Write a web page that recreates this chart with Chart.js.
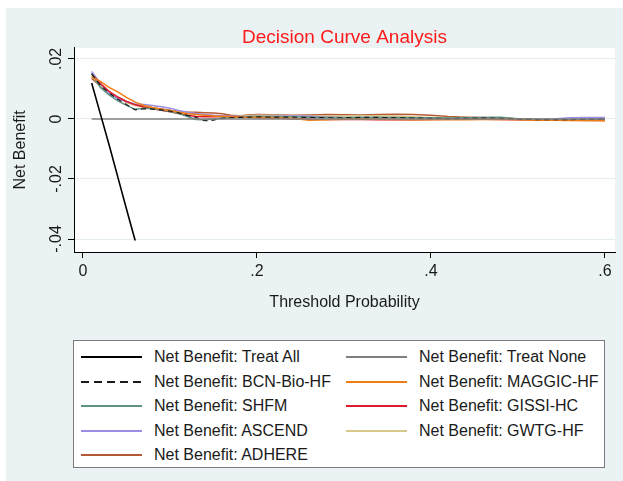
<!DOCTYPE html>
<html>
<head>
<meta charset="utf-8">
<script src="https://cdn.jsdelivr.net/npm/chart.js@4.4.1/dist/chart.umd.min.js"></script>
<style>
  html, body { margin: 0; padding: 0; background: #fff; }
  #page { position: relative; width: 623px; height: 481px; overflow: hidden; font-family: "Liberation Sans", Arial, sans-serif; }
  #bg { position: absolute; left: 6px; top: 8px; right: 0; bottom: 0; background: #eaf2f3; }
  #wrap { position: absolute; left: 0; top: 0; width: 623px; height: 330px; }
  #legend { position: absolute; left: 73px; top: 340px; width: 530px; height: 126px; background: #fff; border: 1px solid #7a7a7a; }
  .item { position: absolute; height: 20px; font-size: 16px; color: #1a1a1a; white-space: nowrap; }
  .item svg { position: absolute; left: 0; top: 3px; }
  .item span { position: absolute; left: 73px; top: 0; line-height: 20px; }
</style>
</head>
<body>
<div id="page">
  <div id="bg"></div>
  <div id="wrap"><canvas id="chart" width="623" height="330"></canvas></div>
  <div id="legend"></div>
</div>
<script>
const thresholds = [0.01, 0.02, 0.03, 0.04, 0.05, 0.06, 0.07, 0.08, 0.09, 0.10,
                    0.11, 0.12, 0.13, 0.14, 0.15, 0.16, 0.17, 0.18, 0.19, 0.20,
                    0.22, 0.24, 0.26, 0.28, 0.30, 0.32, 0.34, 0.36, 0.38, 0.40,
                    0.42, 0.44, 0.46, 0.48, 0.50, 0.52, 0.54, 0.56, 0.58, 0.60];

const treatAllX = [0.01, 0.02, 0.03, 0.04, 0.05, 0.06];
const treatAll  = [0.0120, 0.0017, -0.0086, -0.0193, -0.0300, -0.0405];
const treatNoneX = [0.01, 0.60];
const treatNone  = [0, 0];

const bcnBioHf = [.0150, .0112, .0086, .0066, .0048, .0030, .0034, .0033, .0030, .0026,
                  .0020, .0012, .0005, -.0006, -.0004, .0002, .0004, .0005, .0006, .0007,
                  .0006, .0006, .0005, .0004, .0004, .0005, .0005, .0004, .0003, .0002,
                  .0001, .0002, .0003, .0002, -.0001, -.0002, -.0002, -.0002, -.0001, .0000];
const maggicHf = [.0140, .0125, .0105, .0090, .0072, .0056, .0045, .0038, .0032, .0027,
                  .0022, .0018, .0015, .0012, .0010, .0008, .0007, .0006, .0005, .0005,
                  .0004, .0002, -.0004, -.0003, -.0001, .0000, -.0001, -.0002, -.0003, -.0003,
                  -.0002, -.0003, -.0002, -.0001, -.0003, -.0004, -.0004, -.0005, -.0005, -.0006];
const shfm     = [.0152, .0105, .0080, .0060, .0045, .0032, .0036, .0034, .0030, .0025,
                  .0018, .0008, -.0002, -.0003, .0000, .0003, .0005, .0006, .0007, .0008,
                  .0007, .0007, .0006, .0005, .0005, .0006, .0006, .0005, .0004, .0004,
                  .0003, .0004, .0005, .0006, .0001, -.0002, -.0002, -.0002, -.0001, .0000];
const gissiHc  = [.0150, .0118, .0092, .0073, .0058, .0047, .0040, .0034, .0029, .0024,
                  .0018, .0012, .0008, .0007, .0007, .0008, .0008, .0007, .0006, .0005,
                  .0003, .0001, -.0001, -.0002, -.0002, -.0002, -.0003, -.0003, -.0003, -.0002,
                  -.0001, .0000, -.0001, -.0002, -.0003, -.0003, -.0003, -.0003, -.0003, -.0003];
const ascend   = [.0158, .0118, .0085, .0068, .0057, .0050, .0048, .0045, .0041, .0036,
                  .0028, .0022, .0018, .0015, .0012, .0010, .0009, .0008, .0008, .0008,
                  .0009, .0010, .0009, .0006, .0004, .0003, .0003, .0003, .0002, .0001,
                  .0000, -.0001, .0000, .0001, -.0001, -.0002, .0000, .0004, .0005, .0005];
const gwtgHf   = [.0142, .0112, .0090, .0070, .0055, .0045, .0040, .0035, .0031, .0027,
                  .0023, .0019, .0016, .0013, .0011, .0010, .0009, .0010, .0011, .0012,
                  .0012, .0011, .0010, .0009, .0010, .0011, .0011, .0009, .0007, .0005,
                  .0004, .0004, .0003, .0002, -.0001, -.0003, -.0003, -.0004, -.0004, -.0004];
const adhere   = [.0135, .0110, .0090, .0072, .0058, .0048, .0042, .0037, .0033, .0029,
                  .0025, .0023, .0022, .0021, .0020, .0017, .0012, .0011, .0013, .0015,
                  .0014, .0012, .0013, .0015, .0014, .0013, .0015, .0016, .0015, .0012,
                  .0008, .0006, .0005, .0004, .0000, -.0002, -.0003, -.0004, -.0005, -.0005];

const xTicks = [0, 0.2, 0.4, 0.6];
const yTicks = [-0.04, -0.02, 0, 0.02];

const FONT = '"Liberation Sans", Arial, sans-serif';

function fmt(v) {
    let s = String(Math.round(v * 1000) / 1000);
    return s.replace(/^(-?)0\./, '$1.');
}

function pts(xs, ys) {
    return xs.map((x, i) => ({ x: x, y: ys[i] }));
}

function series(label, ys, color, dash, width) {
    return {
        label: label,
        data: pts(thresholds, ys),
        borderColor: color,
        borderWidth: width || 1.5,
        borderDash: dash || [],
        pointRadius: 0,
        fill: false
    };
}

const datasets = [
    { label: 'Net Benefit: Treat All', data: pts(treatAllX, treatAll), borderColor: '#000000', borderWidth: 1.6, pointRadius: 0, fill: false },
    { label: 'Net Benefit: Treat None', data: pts(treatNoneX, treatNone), borderColor: '#808080', borderWidth: 1.5, pointRadius: 0, fill: false },
    series('Net Benefit: BCN-Bio-HF', bcnBioHf, '#1a1a1a', [5, 4], 1.2),
    series('Net Benefit: MAGGIC-HF', maggicHf, '#ee7d15'),
    series('Net Benefit: SHFM', shfm, '#5f9383'),
    series('Net Benefit: GISSI-HC', gissiHc, '#dc1a2c'),
    series('Net Benefit: ASCEND', ascend, '#9a8fe4'),
    series('Net Benefit: GWTG-HF', gwtgHf, '#d8c88a'),
    series('Net Benefit: ADHERE', adhere, '#b65a36')
];

// white plot region + rotated y tick labels (Stata style)
const plotBg = {
    id: 'plotBg',
    beforeDraw(chart) {
        const a = chart.chartArea;
        const ctx = chart.ctx;
        ctx.save();
        ctx.fillStyle = '#ffffff';
        ctx.fillRect(a.left, a.top, a.right - a.left, a.bottom - a.top);
        ctx.restore();
    },
    afterDraw(chart) {
        const ctx = chart.ctx;
        const y = chart.scales.y;
        ctx.save();
        ctx.fillStyle = '#1a1a1a';
        ctx.font = '16px ' + FONT;
        ctx.textAlign = 'center';
        ctx.textBaseline = 'middle';
        yTicks.forEach(v => {
            ctx.save();
            ctx.translate(57, y.getPixelForValue(v));
            ctx.rotate(-Math.PI / 2);
            ctx.fillText(fmt(v), 0, 0);
            ctx.restore();
        });
        ctx.restore();
    }
};

const chart = new Chart(document.getElementById('chart'), {
    type: 'line',
    data: { datasets: datasets },
    plugins: [plotBg],
    options: {
        responsive: false,
        animation: false,
        layout: { padding: { left: 0, right: 8, top: 0, bottom: 0 } },
        plugins: {
            legend: { display: false },
            tooltip: { enabled: false },
            title: {
                display: true,
                text: 'Decision Curve Analysis',
                color: '#ff1a1a',
                fullSize: false,
                font: { family: FONT, size: 19, weight: 'normal', lineHeight: 1.1 },
                padding: { top: 27, bottom: 0 }
            }
        },
        scales: {
            x: {
                type: 'linear',
                min: -0.0103,
                max: 0.6115,
                afterBuildTicks: s => { s.ticks = xTicks.map(v => ({ value: v })); },
                afterFit: s => { s.height = 78; },
                ticks: { color: '#1a1a1a', font: { family: FONT, size: 16 }, padding: 4, maxRotation: 0, callback: v => fmt(v) },
                grid: { drawOnChartArea: false, tickLength: 6, tickColor: '#000' },
                border: { display: true, color: '#000', width: 1 },
                title: { display: true, text: 'Threshold Probability', color: '#1a1a1a', font: { family: FONT, size: 16 }, padding: { top: 0, bottom: 18 } }
            },
            y: {
                type: 'linear',
                min: -0.04433,
                max: 0.02367,
                afterBuildTicks: s => { s.ticks = yTicks.map(v => ({ value: v })); },
                afterFit: s => { s.width = 74; },
                ticks: { display: false },
                grid: { color: '#e4edef', lineWidth: 1, tickLength: 6, tickColor: '#000' },
                border: { display: true, color: '#000', width: 1 },
                title: { display: true, text: 'Net Benefit', color: '#1a1a1a', font: { family: FONT, size: 16 }, padding: { top: 11, bottom: 0 } }
            }
        }
    }
});

// legend box in two columns, built from the chart's datasets
const legend = document.getElementById('legend');
chart.data.datasets.forEach((ds, i) => {
    const col = i % 2, row = Math.floor(i / 2);
    const item = document.createElement('div');
    item.className = 'item';
    item.style.left = (col === 0 ? 7 : 272) + 'px';
    item.style.top = (6 + row * 24.6) + 'px';
    const dash = (ds.borderDash && ds.borderDash.length) ? ' stroke-dasharray="8 5"' : '';
    item.innerHTML = '<svg width="62" height="14"><line x1="0" y1="7" x2="61" y2="7" stroke="' + ds.borderColor +
        '" stroke-width="1.8"' + dash + '/></svg><span>' + ds.label + '</span>';
    legend.appendChild(item);
});
</script>
</body>
</html>
